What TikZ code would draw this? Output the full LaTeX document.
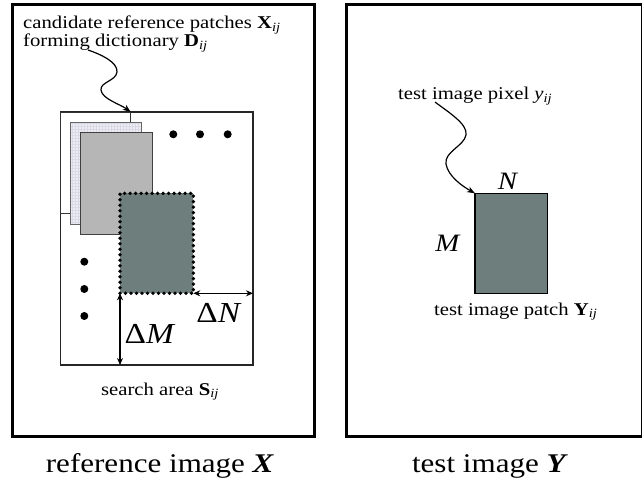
\documentclass[tikz,border=0pt]{standalone}
\usepackage{fontspec}
\setmainfont{Liberation Serif}[FakeStretch=1.15]
\usetikzlibrary{arrows.meta}
\newcommand\mysub[1]{\textsubscript{\textit{#1}}}
\definecolor{darkpatch}{RGB}{110,126,124}
\definecolor{midpatch}{RGB}{182,182,182}
\definecolor{lightpatch}{RGB}{236,236,242}
\definecolor{gridcol}{RGB}{218,218,230}
\begin{document}
\begin{tikzpicture}[x=1pt,y=-1pt,
  frame/.style={draw=black,line width=3pt,inner sep=0pt,anchor=north west},
  box/.style={draw,inner sep=0pt,outer sep=0pt,anchor=north west},
  lbl/.style={inner sep=0pt,font=\fontsize{18}{20}\selectfont},
  biglbl/.style={inner sep=0pt,font=\fontsize{27}{30}\selectfont},
  dimlbl/.style={inner sep=0pt,font=\fontsize{29}{32}\selectfont},
  mnlbl/.style={inner sep=0pt,font=\fontsize{25}{28}\selectfont},
  dimarrow/.style={{Stealth[length=7pt,width=6pt]}-{Stealth[length=7pt,width=6pt]},line width=1.3pt},
  wiggle/.style={-{Stealth[length=8pt,width=6pt]},line width=1.2pt},
  dotrow/.style={fill=black,circle,inner sep=0pt,minimum size=8pt}
]
\useasboundingbox (0,0) rectangle (642,481);
% outer frames
\node[frame,minimum width=302pt,minimum height=432pt] (fx) at (10.5,3) {};
\node[frame,minimum width=296pt,minimum height=432pt] (fy) at (344.5,3) {};
% search area
\node[box,line width=1.3pt,draw=black!85,minimum width=192.3pt,minimum height=253pt] (sa) at (60.7,112) {};
% first (white) candidate patch
\node[box,line width=0.8pt,draw=black!80,fill=white,minimum width=70pt,minimum height=101pt] (p1) at (60.7,112) {};
% light hatched patch
\node[box,line width=0.8pt,draw=black!60,fill=lightpatch,minimum width=71pt,minimum height=101.6pt] (p2) at (70.7,122.7) {};
\begin{scope}
\clip (70.7,122.7) rectangle (141.7,224.3);
\draw[gridcol,line width=0.3pt,step=3pt] (70,122) grid (142,225);
\end{scope}
\draw[black!60,line width=0.8pt] (p2.north west) rectangle (p2.south east);
% medium patch
\node[box,line width=1pt,draw=black!75,fill=midpatch,minimum width=71.6pt,minimum height=101.6pt] (p3) at (80.7,132.7) {};
% dark dotted patch
\node[box,fill=darkpatch,minimum width=73.3pt,minimum height=100pt,draw=black,line width=3.8pt,line cap=round,dash pattern=on 0pt off 5.5pt] (pd) at (120,193.3) {};
% dots
\node[dotrow] (d1) at (173.3,134.3) {};
\node[dotrow] (d2) at (200,134.3) {};
\node[dotrow] (d3) at (227.7,134.3) {};
\node[dotrow] (d4) at (84.3,261.7) {};
\node[dotrow] (d5) at (84.3,289) {};
\node[dotrow] (d6) at (84.3,316) {};
% dimension arrows
\draw[dimarrow] (pd.south east) -- (pd.south east -| sa.east);
\draw[dimarrow] (pd.south west) -- (pd.south west |- sa.south);
\node[dimlbl,anchor=base] (dn) at (219,322) {Δ\textit{N}};
\node[dimlbl,anchor=base] (dm) at (150,343) {Δ\textit{M}};
% labels left
\node[lbl,anchor=base west] (l1) at (23,29) {candidate reference patches \textbf{X}\mysub{ij}};
\node[lbl,anchor=base west] (l2) at (23,47) {forming dictionary \textbf{D}\mysub{ij}};
\node[lbl,anchor=base] (ls) at (160,395) {search area \textbf{S}\mysub{ij}};
\coordinate (c1) at (88,50);
\draw[wiggle] (c1) .. controls (100,54) and (118,62) .. (117,72)
  .. controls (116,81) and (100,82) .. (101,90)
  .. controls (102,99) and (120,104) .. (p1.north east);
% right panel
\node[box,line width=1.2pt,draw=black,fill=darkpatch,minimum width=72.3pt,minimum height=100pt] (yp) at (475,193.3) {};
\node[mnlbl,anchor=center] (nl) at (508,181) {\textit{N}};
\node[mnlbl,anchor=center] (ml) at (448,243) {\textit{M}};
\node[lbl,anchor=base west] (tp) at (398,100) {test image pixel \textit{y}\mysub{ij}};
\node[lbl,anchor=base west] (tq) at (434,315) {test image patch \textbf{Y}\mysub{ij}};
\coordinate (c2) at (435,102);
\draw[wiggle] (c2) .. controls (448,112) and (468,124) .. (466,135)
  .. controls (464,146) and (444,152) .. (446,164)
  .. controls (448,176) and (462,186) .. (yp.north west);
% bottom captions
\node[biglbl,anchor=base] (cx) at (160,472) {reference image \textbf{\textit{X}}};
\node[biglbl,anchor=base] (cy) at (490,472) {test image \textbf{\textit{Y}}};
\end{tikzpicture}
\end{document}
